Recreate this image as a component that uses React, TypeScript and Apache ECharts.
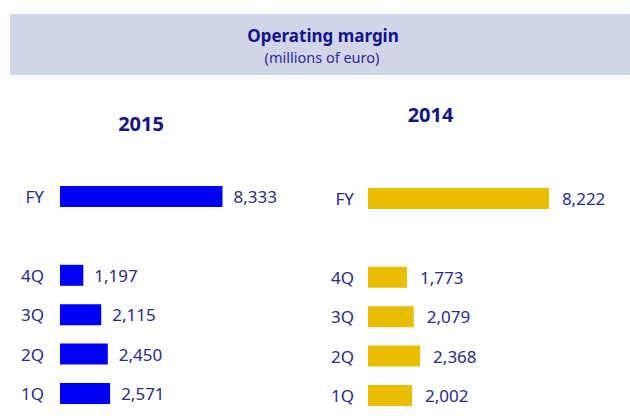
import React, { useEffect, useRef } from "react";
import * as echarts from "echarts";

const categories = ["1Q", "2Q", "3Q", "4Q", "", "FY"];
const values2015 = [2571, 2450, 2115, 1197, null, 8333];
const values2014 = [2002, 2368, 2079, 1773, null, 8222];
const titleText = "Operating margin";
const subtitleText = "(millions of euro)";
const year1 = "2015";
const year2 = "2014";

const NAVY = "#14148a";
const LABEL = "#2b2b86";
const FONT = "'Noto Sans', 'Open Sans', sans-serif";

export default function App() {
  const ref = useRef<HTMLDivElement>(null);
  useEffect(() => {
    if (!ref.current) return;
    const chart = echarts.init(ref.current, null, { renderer: "svg" });
    const fmt = (p: any) => (p.value == null ? "" : Number(p.value).toLocaleString("en-US"));
    const yAxisBase = (gridIndex: number, margin: number) => ({
      type: "category" as const,
      gridIndex,
      data: categories,
      axisLine: { show: false },
      axisTick: { show: false },
      splitLine: { show: false },
      axisLabel: { color: LABEL, fontSize: 17, fontFamily: FONT, margin },
    });
    const xAxisBase = (gridIndex: number) => ({
      type: "value" as const,
      gridIndex,
      min: 0,
      max: 10000,
      show: false,
      splitLine: { show: false },
    });
    chart.setOption({
      animation: false,
      textStyle: { fontFamily: FONT },
      grid: [
        { left: 60, top: 176.8, height: 236.4, width: 195 },
        { left: 368, top: 178.8, height: 236.4, width: 220 },
      ],
      xAxis: [xAxisBase(0), xAxisBase(1)],
      yAxis: [yAxisBase(0, 16), yAxisBase(1, 14)],
      graphic: [
        {
          type: "rect",
          shape: { x: 10, y: 14, width: 620, height: 61 },
          style: { fill: "#d0d6e8" },
          silent: true,
        },
        {
          type: "text",
          x: 323,
          y: 35,
          style: {
            text: titleText,
            fill: NAVY,
            font: `bold 17px ${FONT}`,
            textAlign: "center",
            textVerticalAlign: "middle",
          },
        },
        {
          type: "text",
          x: 322,
          y: 56.5,
          style: {
            text: subtitleText,
            fill: "#2a2a90",
            font: `14.5px ${FONT}`,
            textAlign: "center",
            textVerticalAlign: "middle",
          },
        },
        {
          type: "text",
          x: 141,
          y: 123,
          style: {
            text: year1,
            fill: NAVY,
            font: `bold 20px ${FONT}`,
            textAlign: "center",
            textVerticalAlign: "middle",
          },
        },
        {
          type: "text",
          x: 430.5,
          y: 114.5,
          style: {
            text: year2,
            fill: NAVY,
            font: `bold 20px ${FONT}`,
            textAlign: "center",
            textVerticalAlign: "middle",
          },
        },
      ],
      series: [
        {
          type: "bar",
          xAxisIndex: 0,
          yAxisIndex: 0,
          data: values2015,
          barWidth: 21,
          itemStyle: { color: "#0000f5" },
          label: {
            show: true,
            position: "right",
            distance: 11,
            color: LABEL,
            fontSize: 17,
            fontFamily: FONT,
            formatter: fmt,
          },
        },
        {
          type: "bar",
          xAxisIndex: 1,
          yAxisIndex: 1,
          data: values2014,
          barWidth: 21,
          itemStyle: { color: "#e9bd00" },
          label: {
            show: true,
            position: "right",
            distance: 13,
            color: LABEL,
            fontSize: 17,
            fontFamily: FONT,
            formatter: fmt,
          },
        },
      ],
    });
    return () => chart.dispose();
  }, []);
  return (
    <div
      ref={ref}
      style={{ position: "fixed", left: 0, top: 0, width: 630, height: 416, background: "#fff" }}
    />
  );
}
